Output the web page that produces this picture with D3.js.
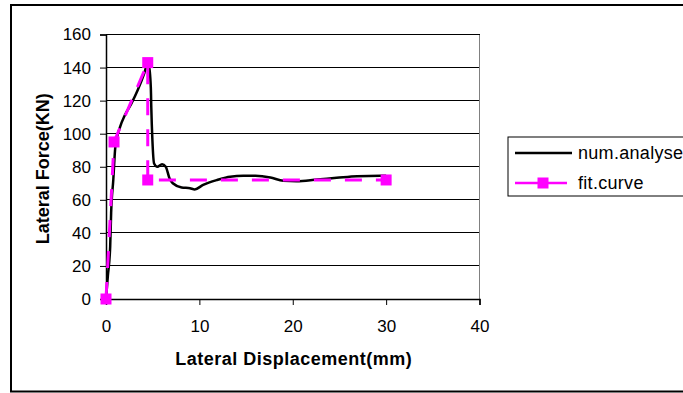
<!DOCTYPE html>
<html><head><meta charset="utf-8">
<script src="https://cdn.jsdelivr.net/npm/d3@7"></script>
<style>body{margin:0;background:#fff}svg{display:block}text{font-family:"Liberation Sans",Arial,sans-serif}</style>
</head><body><svg id="c" width="683" height="393"></svg>
<script>
const numX = [0,0.2,0.45,0.55,0.78,1.0,1.5,2.0,2.7,3.4,4.1,4.4,4.6,4.8,4.85,4.97,5.15,5.5,6.0,6.4,6.8,7.15,8.1,9.0,9.5,10.4,11.9,13.3,14.7,16.0,17.6,19.0,20.4,22.6,24.7,26.9,29.4,30];
const numY = [0,14,32,52,72,92,104,111,118,126.4,136.5,141.5,140.5,128,116,96,82,80,81.5,80,73,70,67.5,67,66.3,69,72,74,74.5,74.5,73.5,71.5,71.3,72.3,73.3,74.3,74.5,74.5];
const fitX = [0,0.86,4.47,4.47,30];
const fitY = [0,95,143,72,72];
const xTicks = [0,10,20,30,40];
const yTicks = [0,20,40,60,80,100,120,140,160];
const seriesNames = ["num.analyse","fit.curve"];

const svg = d3.select("#c");
svg.append("rect").attr("width",683).attr("height",393).attr("fill","#fff");
svg.append("rect").attr("x",11).attr("y",5).attr("width",700).attr("height",386.5)
  .attr("fill","none").attr("stroke","#000").attr("stroke-width",2);

const L=106, R=479.5, T=34.5, B=299;
const x = d3.scaleLinear().domain([0,40]).range([L,R]);
const y = d3.scaleLinear().domain([0,160]).range([B,T]);

// grid
svg.append("g").selectAll("line").data(yTicks.filter(d=>d>0)).join("line")
  .attr("x1",L).attr("x2",R).attr("y1",d=>y(d)).attr("y2",d=>y(d))
  .attr("stroke","#000").attr("stroke-width",1).attr("shape-rendering","crispEdges");
svg.append("line").attr("x1",R).attr("x2",R).attr("y1",T).attr("y2",B)
  .attr("stroke","#808080").attr("stroke-width",1.5).attr("shape-rendering","crispEdges");

const ya = svg.append("g").attr("transform",`translate(${L},0)`)
  .call(d3.axisLeft(y).tickValues(yTicks).tickSize(6).tickPadding(9));
const xa = svg.append("g").attr("transform",`translate(0,${B})`)
  .call(d3.axisBottom(x).tickValues(xTicks).tickSize(6).tickPadding(15));
[ya,xa].forEach(a=>{
  a.select(".domain").attr("stroke","#000").attr("stroke-width",1.5);
  a.selectAll(".tick line").attr("stroke","#000").attr("stroke-width",1);
  a.selectAll("text").attr("font-size",17).attr("fill","#000").attr("font-family","Liberation Sans, Arial, sans-serif");
});

svg.append("text").attr("x",(L+R)/2+1).attr("y",365).attr("text-anchor","middle")
  .attr("font-size",18).attr("font-weight","bold").attr("letter-spacing",0.5).text("Lateral Displacement(mm)");
svg.append("text").attr("transform",`translate(49,${(T+B)/2+2}) rotate(-90)`).attr("text-anchor","middle")
  .attr("font-size",18).attr("font-weight","bold").text("Lateral Force(KN)");

const numData = numX.map((d,i)=>[d,numY[i]]);
const fitData = fitX.map((d,i)=>[d,fitY[i]]);
svg.append("path").datum(numData)
  .attr("d",d3.line().x(d=>x(d[0])).y(d=>y(d[1])).curve(d3.curveMonotoneX))
  .attr("fill","none").attr("stroke","#000").attr("stroke-width",2.5);
svg.append("path").datum(fitData)
  .attr("d",d3.line().x(d=>x(d[0])).y(d=>y(d[1])))
  .attr("fill","none").attr("stroke","#ff00ff").attr("stroke-width",3).attr("stroke-dasharray","17,14");
svg.append("g").selectAll("rect").data(fitData).join("rect")
  .attr("x",d=>x(d[0])-5.5).attr("y",d=>y(d[1])-5.5).attr("width",11).attr("height",11).attr("fill","#ff00ff");

// legend
const lg = svg.append("g");
lg.append("rect").attr("x",508).attr("y",137).attr("width",200).attr("height",59)
  .attr("fill","#fff").attr("stroke","#000").attr("stroke-width",1);
lg.append("line").attr("x1",515).attr("x2",572).attr("y1",153).attr("y2",153).attr("stroke","#000").attr("stroke-width",2.5);
lg.append("line").attr("x1",515).attr("x2",567).attr("y1",183).attr("y2",183).attr("stroke","#ff00ff").attr("stroke-width",2.5);
lg.append("rect").attr("x",543-5.5).attr("y",183-5.5).attr("width",11).attr("height",11).attr("fill","#ff00ff");
lg.selectAll("text.l").data(seriesNames).join("text").attr("class","l")
  .attr("x",578).attr("y",(d,i)=>159+i*30).attr("font-size",18).attr("letter-spacing",0.3).text(d=>d);
</script></body></html>
